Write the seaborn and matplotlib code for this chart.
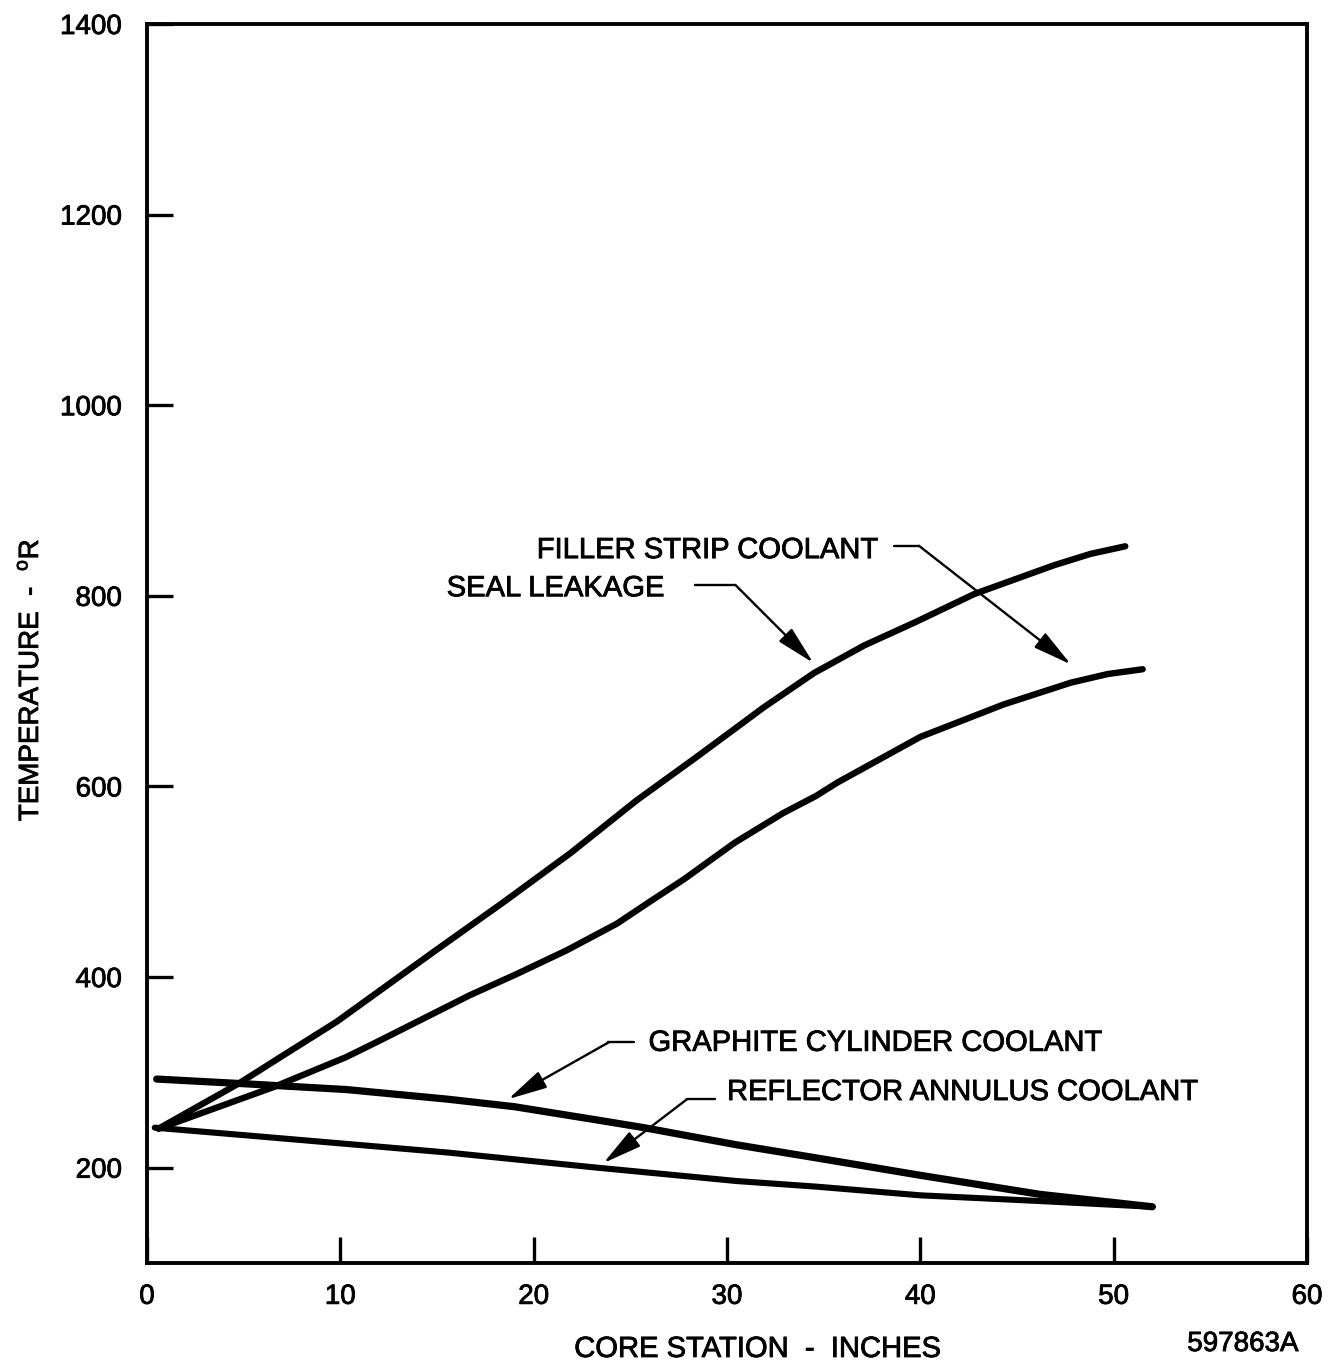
import matplotlib
matplotlib.use("Agg")
import matplotlib.pyplot as plt
import matplotlib.patheffects as pe
import seaborn as sns
import pandas as pd

# Core station (inches) and temperature (deg R) for each coolant path
x_seal = [0.6, 4.8, 6.9, 9.8, 15.0, 18.4, 21.9, 25.3, 28.5, 31.9, 34.5, 37.1,
          39.7, 42.8, 46.9, 48.8, 50.6]
t_seal = [241, 289, 316, 353, 429, 478, 530, 585, 632, 683, 719, 748,
          772, 802, 832, 844, 852]

x_filler = [0.6, 6.6, 10.3, 12.0, 16.7, 19.1, 21.7, 24.3, 26.0, 27.8, 30.4,
            32.9, 34.6, 35.7, 40.0, 44.3, 47.8, 49.7, 51.5]
t_filler = [241, 285, 316, 333, 381, 403, 428, 456, 479, 503, 541,
            572, 590, 604, 652, 686, 709, 718, 723]

x_graphite = [0.5, 5.1, 10.3, 15.5, 19.0, 23.3, 25.7, 30.5, 34.7, 40.0, 46.2, 52.0]
t_graphite = [293, 288, 282, 272, 264, 250, 242, 224, 210, 192, 172, 159]

x_reflector = [0.4, 5.1, 10.3, 15.5, 23.3, 30.5, 34.7, 40.0, 46.2, 52.0]
t_reflector = [242, 234, 225, 216, 200, 186, 180, 171, 165, 159]

x_ticks = [0, 10, 20, 30, 40, 50, 60]
y_ticks = [200, 400, 600, 800, 1000, 1200, 1400]

curves = {
    "seal": (x_seal, t_seal, 4.6),
    "filler": (x_filler, t_filler, 4.6),
    "graphite": (x_graphite, t_graphite, 5.2),
    "reflector": (x_reflector, t_reflector, 4.4),
}

sns.set_theme(style="white")
plt.rcParams["font.family"] = ["Liberation Sans", "DejaVu Sans"]
plt.rcParams["mathtext.fontset"] = "custom"
plt.rcParams["mathtext.rm"] = "Liberation Sans"

ink = [pe.withStroke(linewidth=0.6, foreground="black")]

W, H = 1333, 1370
fig = plt.figure(figsize=(W / 100, H / 100), dpi=100)
fig.patch.set_facecolor("white")
left, right, top, bottom = 147, 1307, 24, 1263
ax = fig.add_axes([left / W, 1 - bottom / H, (right - left) / W, (bottom - top) / H])

for name, (xs, ts, lw) in curves.items():
    df = pd.DataFrame({"station": xs, "temp": ts})
    sns.lineplot(data=df, x="station", y="temp", estimator=None, sort=False,
                 color="black", lw=lw, solid_capstyle="round",
                 solid_joinstyle="round", ax=ax)

ax.set_xlim(0, 60)
ax.set_ylim(100, 1400)
ax.set_xticks(x_ticks)
ax.set_yticks(y_ticks)
ax.set_xticklabels([str(v) for v in x_ticks])
ax.set_yticklabels([str(v) for v in y_ticks])
for lab in ax.get_xticklabels() + ax.get_yticklabels():
    lab.set_path_effects(ink)

for s in ax.spines.values():
    s.set_visible(True)
    s.set_color("black")
    s.set_linewidth(2.8)

ax.tick_params(bottom=True, left=True, top=False, right=False,
               direction="in", length=19, width=2.4, colors="black",
               labelsize=20)
ax.tick_params(axis="x", pad=15)
ax.tick_params(axis="y", pad=18)

ax.set_xlabel("CORE STATION  -  INCHES", fontsize=21, color="black",
              path_effects=ink)
ax.xaxis.label.set_va("center")
ax.xaxis.set_label_coords(0.526, -0.0694)

ax.set_ylabel(r"TEMPERATURE  -  $^{\mathrm{o}}$R", fontsize=20, color="black",
              path_effects=ink)
ax.yaxis.label.set_va("center")
ax.yaxis.set_label_coords(-0.100, 0.4705)

ax.text(0.9927, -0.0654, "597863A", transform=ax.transAxes,
        ha="right", va="center", fontsize=20, color="black", path_effects=ink)

arrow_style = dict(arrowstyle="-|>,head_length=1.2,head_width=0.28",
                   mutation_scale=20, color="black", lw=1.7,
                   shrinkA=0, shrinkB=0)


def callout(label, tx, ty, x0, x_bend, y_line, x_tip, y_tip):
    ax.text(tx, ty, label, ha="left", va="center", fontsize=21,
            color="black", path_effects=ink)
    ax.plot([x0, x_bend], [y_line, y_line], color="black", lw=1.7)
    ax.annotate("", xy=(x_tip, y_tip), xytext=(x_bend, y_line),
                arrowprops=arrow_style)


callout("FILLER STRIP COOLANT", 20.16, 848, 38.64, 39.93, 852.5, 47.79, 728)
callout("SEAL LEAKAGE", 15.5, 808, 28.34, 30.43, 811.5, 34.46, 729.7)
callout("GRAPHITE CYLINDER COOLANT", 25.94, 331, 25.17, 23.87, 331.4, 18.69, 272)
callout("REFLECTOR ANNULUS COOLANT", 30.0, 279.4, 29.39, 27.93, 271.8, 23.61, 204.9)

fig.savefig("out.png", dpi=100, facecolor="white")
